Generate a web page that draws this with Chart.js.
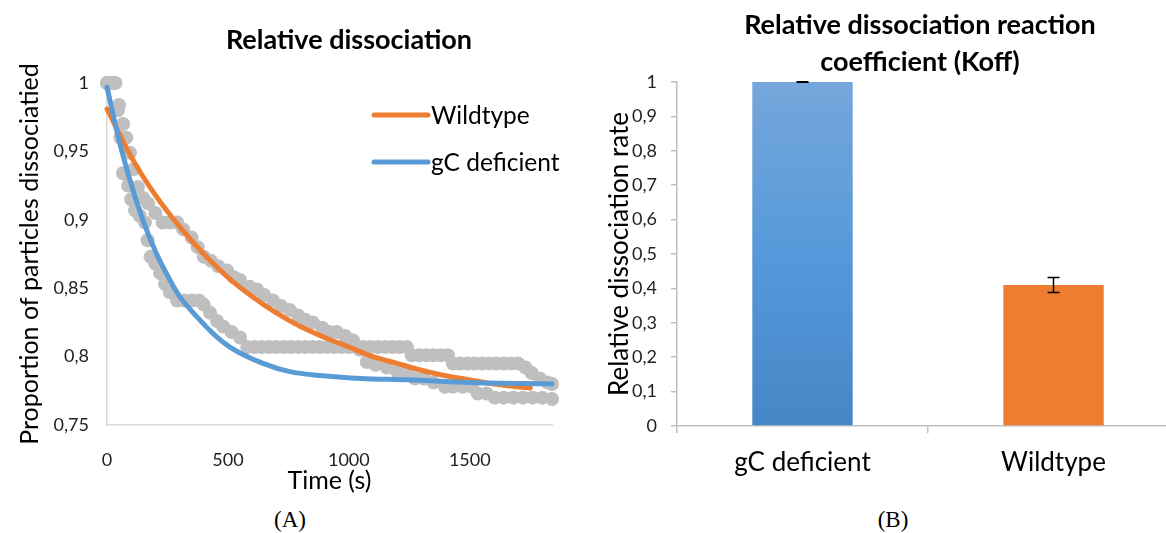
<!DOCTYPE html>
<html>
<head>
<meta charset="utf-8">
<script src="https://cdn.jsdelivr.net/npm/chart.js@4.4.1/dist/chart.umd.min.js"></script>
<style>
  body { margin: 0; width: 1166px; height: 533px; overflow: hidden; background: #fff; position: relative; }
  .box { position: absolute; top: 0; }
  .caption { position: absolute; top: 507px; font: 23px "Liberation Serif", serif; color: #000; transform: translateX(-50%); }
</style>
</head>
<body>
<div class="box" style="left:0"><canvas id="leftChart" width="698" height="500"></canvas></div>
<div class="box" style="left:600px"><canvas id="rightChart" width="640" height="500"></canvas></div>
<div class="caption" style="left:290px">(A)</div>
<div class="caption" style="left:893px">(B)</div>

<script>
const wtTime = [0, 20, 35, 50, 67, 80, 95, 110, 128, 150, 170, 200, 230, 260, 290, 315, 350, 375, 400, 430,
  460, 496, 525, 550, 590, 620, 650, 686, 720, 756, 790, 820, 851, 890, 920, 950, 985, 1017, 1045, 1074,
  1110, 1157, 1200, 1240, 1273, 1310, 1350, 1397, 1430, 1470, 1508, 1533, 1570, 1603, 1640, 1680, 1720, 1760, 1800, 1840];
const wtMeasured = [1, 1, 1, 0.984, 0.970, 0.960, 0.949, 0.937, 0.924, 0.916, 0.912, 0.905, 0.898, 0.898, 0.898, 0.893, 0.887, 0.880, 0.873, 0.870,
  0.866, 0.863, 0.858, 0.856, 0.851, 0.849, 0.845, 0.841, 0.837, 0.834, 0.830, 0.827, 0.825, 0.821, 0.818, 0.818, 0.815, 0.812, 0.805, 0.796,
  0.794, 0.792, 0.789, 0.788, 0.784, 0.784, 0.781, 0.778, 0.778, 0.778, 0.778, 0.773, 0.773, 0.770, 0.770, 0.770, 0.770, 0.770, 0.770, 0.769];

const gcTime = [0, 25, 45, 55, 66, 87, 100, 116, 135, 157, 168, 180, 200, 220, 240, 260, 290, 320, 350, 380,
  400, 426, 455, 480, 515, 550, 580, 610, 640, 670, 700, 730, 760, 790, 820, 850, 880, 910, 940, 970,
  1000, 1030, 1060, 1090, 1120, 1150, 1180, 1210, 1240, 1260, 1290, 1320, 1350, 1380, 1410, 1430, 1460, 1490, 1520, 1550,
  1580, 1610, 1640, 1670, 1700, 1730, 1756, 1790, 1822, 1840];
const gcMeasured = [1, 1, 0.980, 0.960, 0.934, 0.925, 0.915, 0.907, 0.903, 0.898, 0.885, 0.873, 0.868, 0.861, 0.853, 0.847, 0.841, 0.841, 0.841, 0.841,
  0.838, 0.832, 0.826, 0.822, 0.818, 0.814, 0.807, 0.807, 0.807, 0.807, 0.807, 0.807, 0.807, 0.807, 0.807, 0.807, 0.807, 0.807, 0.807, 0.807,
  0.807, 0.807, 0.807, 0.807, 0.807, 0.807, 0.807, 0.807, 0.807, 0.801, 0.801, 0.801, 0.801, 0.801, 0.801, 0.795, 0.795, 0.795, 0.795, 0.795,
  0.795, 0.795, 0.795, 0.795, 0.795, 0.792, 0.788, 0.784, 0.781, 0.780];

// fitted curves
const wtFitTime = [0, 100, 200, 300, 400, 500, 600, 700, 800, 900, 1000, 1100, 1200, 1300, 1400, 1500, 1600, 1750];
const wtFitValue = [0.981, 0.946, 0.918, 0.895, 0.875, 0.858, 0.844, 0.832, 0.822, 0.814, 0.807, 0.800, 0.795, 0.790, 0.786, 0.783, 0.780, 0.777];
const gcFitTime = [0, 50, 100, 150, 200, 260, 300, 372, 450, 508, 645, 756, 893, 1050, 1240, 1500, 1840];
const gcFitValue = [0.997, 0.958, 0.926, 0.899, 0.877, 0.856, 0.844, 0.829, 0.815, 0.807, 0.795, 0.789, 0.786, 0.784, 0.783, 0.781, 0.780];

const xTicksA = [0, 500, 1000, 1500];
const yTicksA = [0.75, 0.8, 0.85, 0.9, 0.95, 1];

// ---- data (B) ----
const barLabels = ["gC deficient", "Wildtype"];
const barValues = [1, 0.41];
const barErrors = [0.001, 0.022];
const yTicksB = [0, 0.1, 0.2, 0.3, 0.4, 0.5, 0.6, 0.7, 0.8, 0.9, 1];

const FONT = "Lato";
const ORANGE = "#ED7D31";
const BLUE = "#5B9BD5";
const GREY = "#BFBFBF";

function pairs(xs, ys) {
  return xs.map((x, i) => ({ x: x, y: ys[i] }));
}

function commaTick(value) {
  return String(Math.round(value * 100) / 100).replace(".", ",");
}

function fixedTicks(list) {
  return function (scale) {
    scale.ticks = list.map((v) => ({ value: v }));
  };
}

// empty axis on the right, only used to keep space so the title stays centred like the original
function spacerAxis(width) {
  return {
    position: "right",
    display: true,
    afterFit(scale) { scale.width = width; },
    grid: { display: false },
    border: { display: false },
    ticks: { display: false }
  };
}

// legend drawn inside the plot area, like the original
const insideLegend = {
  id: "insideLegend",
  afterDraw(chart) {
    const ctx = chart.ctx;
    const area = chart.chartArea;
    ctx.save();
    ctx.font = "24.5px " + FONT;
    ctx.textBaseline = "middle";
    ctx.fillStyle = "#000";
    ctx.lineCap = "round";
    ctx.lineWidth = 5;
    [0, 1].forEach((i, n) => {
      const ds = chart.data.datasets[i];
      const x = area.left + 267;
      const y = area.top + 32 + n * 47;
      ctx.strokeStyle = ds.borderColor;
      ctx.beginPath();
      ctx.moveTo(x, y);
      ctx.lineTo(x + 54, y);
      ctx.stroke();
      ctx.fillText(ds.label, x + 57, y + 1);
    });
    ctx.restore();
  }
};

new Chart(document.querySelector("#leftChart"), {
  type: "scatter",
  data: {
    datasets: [
      {
        label: "Wildtype",
        data: pairs(wtFitTime, wtFitValue),
        showLine: true,
        borderColor: ORANGE,
        borderWidth: 5,
        pointRadius: 0,
        cubicInterpolationMode: "monotone",
        borderCapStyle: "round",
        clip: false,
        order: 1
      },
      {
        label: "gC deficient",
        data: pairs(gcFitTime, gcFitValue),
        showLine: true,
        borderColor: BLUE,
        borderWidth: 5,
        pointRadius: 0,
        cubicInterpolationMode: "monotone",
        borderCapStyle: "round",
        clip: false,
        order: 0
      },
      {
        label: "Wildtype data",
        data: pairs(wtTime, wtMeasured),
        pointRadius: 7,
        pointBackgroundColor: GREY,
        pointBorderWidth: 0,
        clip: false,
        order: 2
      },
      {
        label: "gC deficient data",
        data: pairs(gcTime, gcMeasured),
        pointRadius: 7,
        pointBackgroundColor: GREY,
        pointBorderWidth: 0,
        clip: false,
        order: 3
      }
    ]
  },
  options: {
    responsive: false,
    animation: false,
    layout: { padding: 0 },
    plugins: {
      legend: { display: false },
      tooltip: { enabled: false },
      title: {
        display: true,
        text: "Relative dissociation",
        color: "#000",
        font: { family: FONT, size: 27, weight: "bold", lineHeight: 1.2 },
        padding: { top: 23.8, bottom: 26.8 }
      }
    },
    scales: {
      x: {
        type: "linear",
        min: 0,
        max: 1840,
        afterBuildTicks: fixedTicks(xTicksA),
        afterFit(scale) { scale.height = 75; },
        grid: { display: false },
        border: { display: true, color: "#D9D9D9", width: 1.5 },
        ticks: {
          padding: 16,
          color: "#222",
          font: { family: FONT, size: 18 },
          callback: (v) => String(v)
        },
        title: {
          display: true,
          text: "Time (s)",
          color: "#000",
          font: { family: FONT, size: 25, lineHeight: 1.2 },
          padding: { top: 0, bottom: 4 }
        }
      },
      y: {
        min: 0.75,
        max: 1,
        afterBuildTicks: fixedTicks(yTicksA),
        afterFit(scale) { scale.width = 107; },
        grid: { display: false },
        border: { display: true, color: "#D9D9D9", width: 1.5 },
        ticks: {
          padding: 10,
          color: "#222",
          font: { family: FONT, size: 18 },
          callback: commaTick
        },
        title: {
          display: true,
          text: "Proportion of particles dissociatied",
          color: "#000",
          font: { family: FONT, size: 25, lineHeight: 1.2 },
          padding: { top: 15, bottom: 0 }
        }
      },
      spacer: spacerAxis(146)
    }
  },
  plugins: [insideLegend]
});

// error bars for the bar chart
const errorBars = {
  id: "errorBars",
  afterDatasetsDraw(chart) {
    const ctx = chart.ctx;
    const yScale = chart.scales.y;
    const meta = chart.getDatasetMeta(0);
    ctx.save();
    ctx.strokeStyle = "#000";
    ctx.lineWidth = 1.5;
    meta.data.forEach((bar, i) => {
      const top = yScale.getPixelForValue(barValues[i] + barErrors[i]);
      const bottom = yScale.getPixelForValue(barValues[i] - barErrors[i]);
      ctx.beginPath();
      ctx.moveTo(bar.x, top);
      ctx.lineTo(bar.x, bottom);
      ctx.moveTo(bar.x - 6, top);
      ctx.lineTo(bar.x + 6, top);
      ctx.moveTo(bar.x - 6, bottom);
      ctx.lineTo(bar.x + 6, bottom);
      ctx.stroke();
    });
    ctx.restore();
  }
};

new Chart(document.querySelector("#rightChart"), {
  type: "bar",
  data: {
    labels: barLabels,
    datasets: [{
      data: barValues,
      backgroundColor(c) {
        if (c.dataIndex !== 0) return ORANGE;
        const area = c.chart.chartArea;
        if (!area) return BLUE;
        const g = c.chart.ctx.createLinearGradient(0, area.top, 0, area.bottom);
        g.addColorStop(0, "#75A7DB");
        g.addColorStop(0.5, "#5699DA");
        g.addColorStop(1, "#4586C6");
        return g;
      },
      categoryPercentage: 1,
      barPercentage: 0.4
    }]
  },
  options: {
    responsive: false,
    animation: false,
    layout: { padding: 0 },
    plugins: {
      legend: { display: false },
      tooltip: { enabled: false },
      title: {
        display: true,
        text: ["Relative dissociation reaction", "coefficient (Koff)"],
        color: "#000",
        font: { family: FONT, size: 27, weight: "bold", lineHeight: 1.37 },
        padding: { top: 6.5, bottom: 1.5 }
      }
    },
    scales: {
      x: {
        afterFit(scale) { scale.height = 74; },
        grid: { display: true, drawOnChartArea: false, drawTicks: true, tickLength: 7, color: GREY, lineWidth: 1.5 },
        border: { display: true, color: GREY, width: 1.5 },
        ticks: {
          padding: 14.4,
          color: "#000",
          font: { family: FONT, size: 26 }
        }
      },
      y: {
        min: 0,
        max: 1,
        afterBuildTicks: fixedTicks(yTicksB),
        afterFit(scale) { scale.width = 77; },
        grid: { display: true, drawOnChartArea: false, drawTicks: true, tickLength: 6, color: GREY, lineWidth: 1.5 },
        border: { display: true, color: GREY, width: 1.5 },
        ticks: {
          padding: 14,
          color: "#222",
          font: { family: FONT, size: 18 },
          callback: commaTick
        },
        title: {
          display: true,
          text: "Relative dissociation rate",
          color: "#000",
          font: { family: FONT, size: 26, lineHeight: 1.2 },
          padding: { top: 4.4, bottom: 0 }
        }
      },
      spacer: spacerAxis(61)
    }
  },
  plugins: [errorBars]
});
</script>
</body>
</html>
